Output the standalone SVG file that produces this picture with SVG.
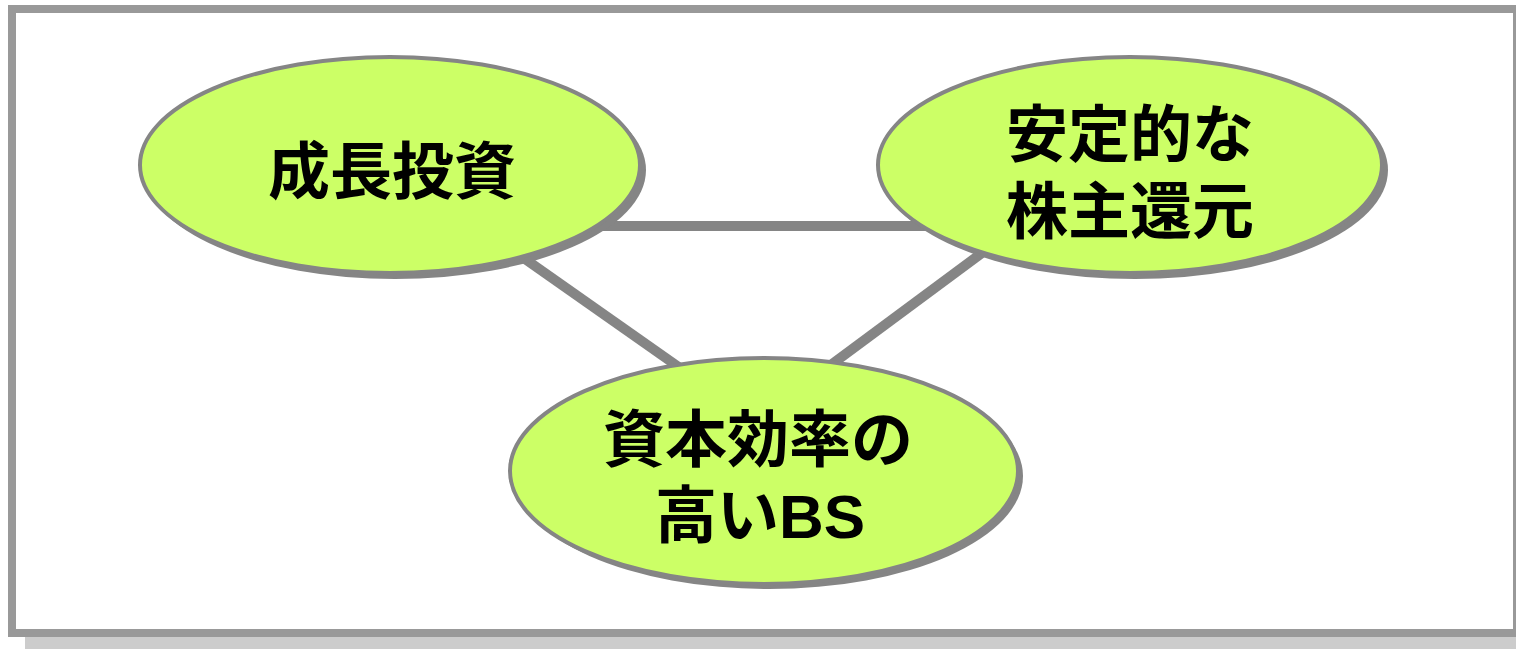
<svg xmlns="http://www.w3.org/2000/svg" width="1516" height="649" viewBox="0 0 1516 649">
  <style>
    .shadow { fill: #858585; }
    .node { fill: #ccff66; stroke: #858585; stroke-width: 4; }
    .label { font-family: "Liberation Sans", "Noto Sans CJK JP", sans-serif; font-weight: 700; font-size: 62px; fill: #000000; text-anchor: middle; }
    .conn { stroke: #858585; stroke-width: 10; fill: none; }
  </style>
  <rect x="25" y="637" width="1491" height="12" fill="#cccccc"/>
  <rect id="frame" x="12" y="9" width="1505" height="624" fill="#ffffff" stroke="#999999" stroke-width="8"/>
  <g id="connectors">
    <line class="conn" x1="590" y1="226" x2="940" y2="226"/>
    <line class="conn" x1="515" y1="252" x2="700" y2="382"/>
    <line class="conn" x1="990" y1="247" x2="820" y2="373"/>
  </g>
  <g id="node-growth">
    <ellipse class="shadow" cx="395" cy="170" rx="251" ry="109"/>
    <ellipse class="node" cx="390" cy="165" rx="250" ry="108"/>
    <text class="label" x="392" y="194">成長投資</text>
  </g>
  <g id="node-return">
    <ellipse class="shadow" cx="1135" cy="170" rx="253" ry="109"/>
    <ellipse class="node" cx="1130" cy="165" rx="252" ry="108"/>
    <text class="label" x="1130" y="157">安定的な</text>
    <text class="label" x="1130" y="234">株主還元</text>
  </g>
  <g id="node-bs">
    <ellipse class="shadow" cx="769" cy="476" rx="254" ry="113"/>
    <ellipse class="node" cx="764" cy="471" rx="254" ry="113"/>
    <text class="label" x="758" y="462">資本効率の</text>
    <text class="label" x="760" y="538">高いBS</text>
  </g>
</svg>
